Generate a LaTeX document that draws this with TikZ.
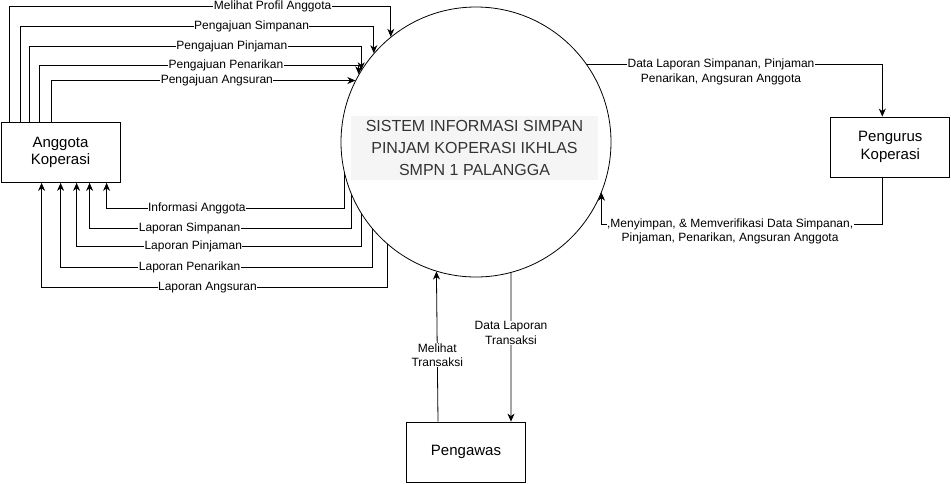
\documentclass[tikz,border=0pt]{standalone}
\usepackage{fontspec}
\setmainfont{Liberation Sans}
\usetikzlibrary{arrows.meta}

\tikzset{
  entity/.style={draw, line width=0.8pt, minimum width=119pt, minimum height=60pt, inner sep=0pt, align=center, font=\fontsize{15}{17.5}\selectfont},
  flow/.style={line width=0.8pt, -{Stealth[length=8pt,width=7pt,inset=2.5pt]}},
  lab/.style={fill=white, inner sep=0.5pt, align=center, font=\fontsize{12}{14.5}\selectfont},
}

\begin{document}
\begin{tikzpicture}[x=1pt,y=-1pt]
    \useasboundingbox (0,0) rectangle (951,483);

    % Draw the process circle and its text
    \node[draw, circle, line width=0.8pt, minimum size=270pt, inner sep=0pt] (sys) at (476,142) {};
    \node[fill=black!4, text=black!80, minimum width=247pt, minimum height=64pt, inner sep=2pt, align=center, font=\fontsize{16}{22}\selectfont] (systxt) at (474.5,148) {SISTEM INFORMASI SIMPAN\\PINJAM KOPERASI IKHLAS\\SMPN 1 PALANGGA};

    % Draw the external entities
    \node[entity] (ang) at (60.5,152.5) {Anggota\\Koperasi};
    \node[entity] (pgr) at (890.3,147) {Pengurus\\Koperasi};
    \node[entity] (pgw) at (466,452) {Pengawas};

    % Flows from Anggota Koperasi into the system
    \draw[flow] ([xshift=9pt]ang.north west) |- node[lab, pos=0.845] {Melihat Profil Anggota} ([yshift=30pt]sys.129) -- (sys.129);
    \draw[flow] ([xshift=20pt]ang.north west) |- node[lab, pos=0.827] {Pengajuan Simpanan} ([yshift=26.6pt]sys.139.1) -- (sys.139.1);
    \draw[flow] ([xshift=29pt]ang.north west) |- node[lab, pos=0.805] {Pengajuan Pinjaman} ([yshift=24.3pt]sys.148.4) -- (sys.148.4);
    \draw[flow] ([xshift=39pt]ang.north west) |- node[lab, pos=0.792] {Pengajuan Penarikan} ([yshift=9.4pt]sys.150.9) -- (sys.150.9);
    \draw[flow] ([xshift=51pt]ang.north west) |- node[lab, pos=0.772] {Pengajuan Angsuran} (sys.153.1);

    % Flows from the system back to Anggota Koperasi
    \draw[flow] (sys.193) -- ++(0,36) -| node[lab, pos=0.31] {Informasi Anggota} ([xshift=106pt]ang.south west);
    \draw[flow] (sys.203.3) -- ++(0,33) -| node[lab, pos=0.309] {Laporan Simpanan} ([xshift=89pt]ang.south west);
    \draw[flow] (sys.212.4) -- ++(0,33) -| node[lab, pos=0.295] {Laporan Pinjaman} ([xshift=76pt]ang.south west);
    \draw[flow] (sys.220.3) -- ++(0,38) -| node[lab, pos=0.293] {Laporan Penarikan} ([xshift=60pt]ang.south west);
    \draw[flow] (sys.229.3) -- ++(0,43) -| node[lab, pos=0.26] {Laporan Angsuran} ([xshift=41pt]ang.south west);

    % Flows with Pengurus Koperasi
    \draw[flow] (sys.35) -| node[lab, pos=0.227, yshift=-7.5pt] {Data Laporan Simpanan, Pinjaman\\Penarikan, Angsuran Anggota} ([xshift=-8pt]pgr.north);
    \draw[flow] ([xshift=-8pt]pgr.south) |- node[lab, pos=0.771, yshift=-6.5pt] {,Menyimpan, \& Memverifikasi Data Simpanan,\\Pinjaman, Penarikan, Angsuran Anggota} ([yshift=-32pt]sys.338) -- (sys.338);

    % Flows with Pengawas
    \draw[flow] ([xshift=-28pt]pgw.north) -- node[lab, pos=0.442] {Melihat\\Transaksi} (sys.253.6);
    \draw[flow] (sys.285) -- node[lab, pos=0.405] {Data Laporan\\Transaksi} ([xshift=45pt]pgw.north);

\end{tikzpicture}
\end{document}
